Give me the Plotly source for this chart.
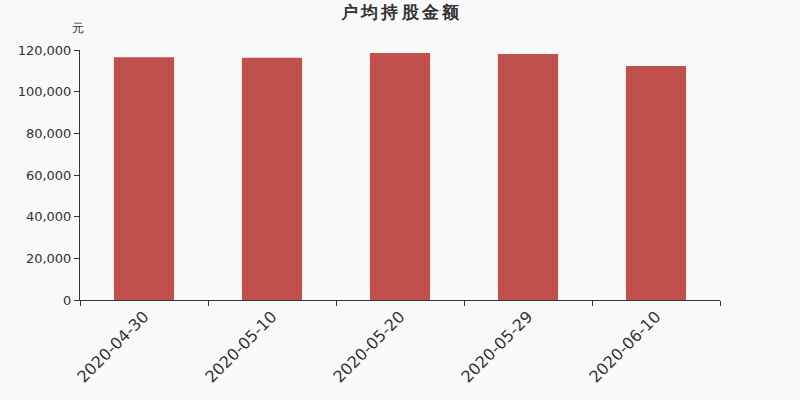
import plotly.graph_objects as go

dates = ["2020-04-30", "2020-05-10", "2020-05-20", "2020-05-29", "2020-06-10"]
avg_holding = [116500, 116250, 118560, 118080, 112320]

TITLE = "户均持股金额"
BAR_COLOR = "#c0504d"
TEXT_COLOR = "#333333"

fig = go.Figure(
    go.Bar(
        x=dates,
        y=avg_holding,
        marker={"color": BAR_COLOR, "line": {"width": 0}},
        hovertemplate="%{x}<br>%{y:,}元<extra></extra>",
    )
)

fig.update_layout(
    width=800,
    height=400,
    margin={"l": 80, "r": 80, "t": 50, "b": 100, "autoexpand": False},
    paper_bgcolor="#f9f9f9",
    plot_bgcolor="#f9f9f9",
    font={"family": "DejaVu Sans", "color": TEXT_COLOR, "size": 13},
    bargap=0.53,
    showlegend=False,
    title={
        # thin spaces give the wider letter spacing of the original title
        "text": "<b>" + "\u2009".join(TITLE) + "</b>",
        "x": 0.5,
        "xanchor": "center",
        "y": 0.985,
        "yanchor": "top",
        "font": {"size": 17, "color": TEXT_COLOR},
    },
    annotations=[
        {
            "text": "元",
            "xref": "paper",
            "yref": "paper",
            "x": -0.003,
            "y": 1.05,
            "xanchor": "center",
            "yanchor": "bottom",
            "showarrow": False,
            "font": {"size": 12, "color": TEXT_COLOR},
        }
    ],
)

fig.update_xaxes(
    type="category",
    automargin=False,
    showline=True,
    linecolor=TEXT_COLOR,
    linewidth=1,
    ticks="outside",
    tickson="boundaries",
    ticklen=5,
    tickcolor=TEXT_COLOR,
    tickangle=-45,
    tickfont={"size": 16},
    showgrid=False,
)

fig.update_yaxes(
    automargin=False,
    range=[0, 120000],
    dtick=20000,
    tickformat=",",
    showline=True,
    linecolor=TEXT_COLOR,
    linewidth=1,
    ticks="outside",
    ticklen=5,
    tickcolor=TEXT_COLOR,
    showgrid=False,
    zeroline=False,
    tickfont={"size": 13},
)

# the page's default body margin would shift the figure by 8px
fig.write_html(
    "out.html",
    config={"displayModeBar": False},
    post_script="document.body.style.margin = '0'; document.body.style.background = '#f9f9f9';",
)
